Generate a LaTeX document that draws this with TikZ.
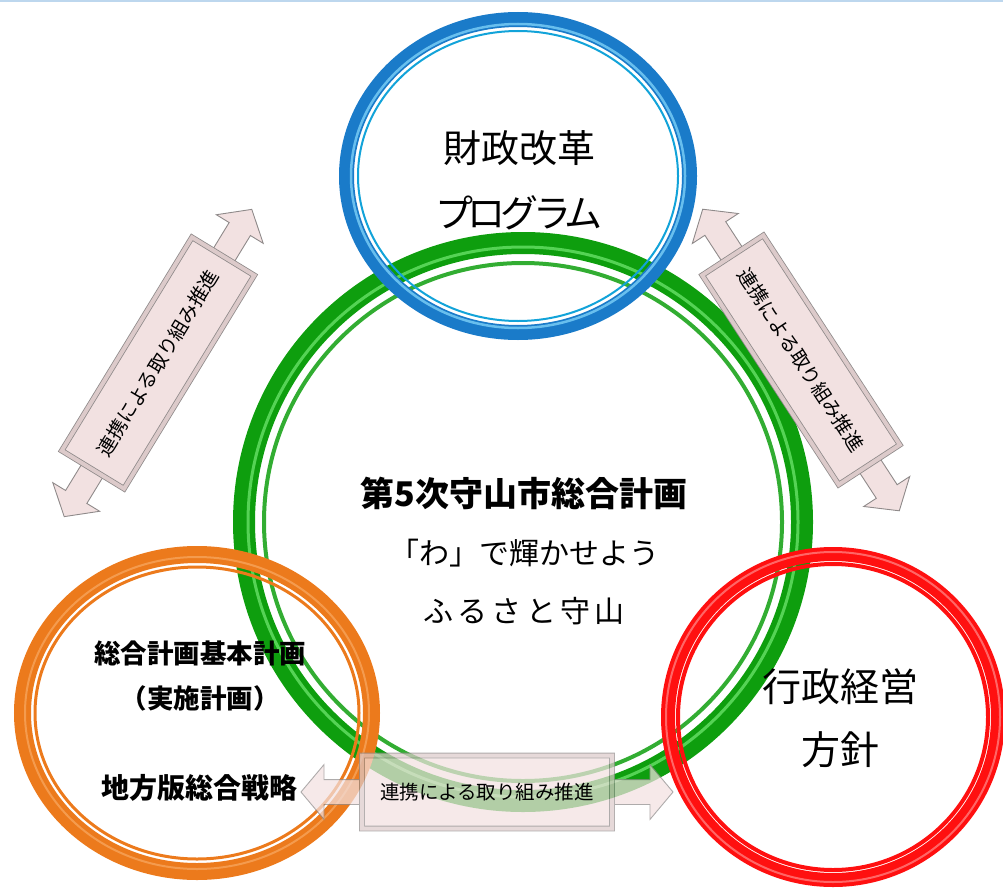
\documentclass[tikz,border=0pt]{standalone}
\usepackage{fontspec}
\usepackage{tikz}
\usetikzlibrary{shapes,arrows,positioning}
\setmainfont{Noto Sans CJK JP}
\newfontfamily\cjkwide[LetterSpace=14]{Noto Sans CJK JP}
\newfontfamily\cjknarrow[LetterSpace=-14]{Noto Sans CJK JP}
\definecolor{ringblue}{HTML}{1A7BC9}
\definecolor{shineblue}{HTML}{8ADCFF}
\definecolor{ringgreen}{HTML}{0E9E0E}
\definecolor{shinegreen}{HTML}{74EA74}
\definecolor{ringorange}{HTML}{EC7A1C}
\definecolor{shineorange}{HTML}{FFC48C}
\definecolor{ringred}{HTML}{FF1010}
\definecolor{shinered}{HTML}{FFA0A0}
\definecolor{linkface}{HTML}{F2E1E1}
\definecolor{linkbevel}{HTML}{DCCACA}
\definecolor{linkedge}{HTML}{8F8A8A}
\definecolor{topline}{HTML}{BDD7EE}

\tikzset{
    linkarrow/.style={double arrow, draw=linkedge, fill=linkface, line width=0.9pt,
        inner xsep=0pt, inner ysep=12pt, minimum width=54pt,
        double arrow head extend=15pt, double arrow tip angle=100},
    linkbox/.style={rectangle, draw=linkedge, fill=linkface, double=linkbevel,
        double distance=4pt, line width=0.8pt, minimum width=250pt, minimum height=73pt},
    linktext/.style={font={\fontsize{19.5}{21}\selectfont}, text=black}
}

\begin{document}
\begin{tikzpicture}[x=1pt, y=-1pt]
        \useasboundingbox (0,0) rectangle (1003,888);
        \draw[topline, line width=2pt] (0,1) -- (1003,1);

        \coordinate (plan) at (523,522);
        \coordinate (fin) at (518,176);
        \coordinate (base) at (197,713);
        \coordinate (admin) at (833,717);

        % Green ring (comprehensive plan)
        \draw[ringgreen, line width=22pt] (plan) ellipse [x radius=279pt, y radius=279pt];
        \draw[shinegreen, line width=3pt, opacity=0.7] (plan) ellipse [x radius=275pt, y radius=275pt];
        \draw[ringgreen!85!white, line width=4pt] (plan) ellipse [x radius=259pt, y radius=259pt];

        % Blue ring
        \draw[ringblue, line width=15pt] (fin) ellipse [x radius=171.5pt, y radius=156.5pt];
        \draw[shineblue, line width=2.5pt, opacity=0.7] (fin) ellipse [x radius=167pt, y radius=152pt];
        \draw[ringblue!70!cyan, line width=2pt] (fin) ellipse [x radius=160pt, y radius=145pt];

        % Orange ring
        \draw[ringorange, line width=17pt] (base) ellipse [x radius=174.5pt, y radius=158.5pt];
        \draw[shineorange, line width=2pt, opacity=0.45] (base) ellipse [x radius=172pt, y radius=156pt];
        \draw[ringorange, line width=3pt] (base) ellipse [x radius=162pt, y radius=146pt];

        % Red ring
        \draw[ringred, line width=14pt] (admin) ellipse [x radius=165pt, y radius=163pt];
        \draw[shinered, line width=2pt, opacity=0.6] (admin) ellipse [x radius=167pt, y radius=165pt];
        \draw[ringred, line width=4pt] (admin) ellipse [x radius=155pt, y radius=153pt];

        % Labels
        \node[font={\fontsize{38}{65}\selectfont}, align=center] (fint) at (519,180)
            {財政改革\\{\cjknarrow プログラム}};
        \node[font={\fontsize{30}{58}\selectfont}, align=center] (plant) at (524,551)
            {{\fontsize{34}{58}\selectfont\bfseries 第5次守山市総合計画}\\「わ」で輝かせよう\\{\cjkwide ふるさと守山}};
        \node[font={\fontsize{26.5}{45}\selectfont\bfseries}, align=center] (baset) at (200,676)
            {総合計画基本計画\\（実施計画）};
        \node[font={\fontsize{28}{30}\selectfont\bfseries}] (strat) at (199,788) {地方版総合戦略};
        \node[font={\fontsize{39}{63}\selectfont}, align=center] (admint) at (840,718)
            {行政経営\\方針};

        % Link arrows
        \foreach \x/\y/\ang/\len/\nm/\op in {158/363/58.6/360/lkl/1, 801/360/-56.9/360/lkr/1, 487/792/0/372/lkb/0.72} {
            \begin{scope}[transparency group, opacity=\op]
                \node[linkarrow, rotate=\ang, minimum height=\len pt] (\nm a) at (\x,\y) {};
                \node[linkbox, rotate=\ang] (\nm b) at (\nm a) {};
            \end{scope}
            \node[linktext, rotate=\ang] (\nm t) at (\nm b) {連携による取り組み推進};
        }
    \end{tikzpicture}
\end{document}
